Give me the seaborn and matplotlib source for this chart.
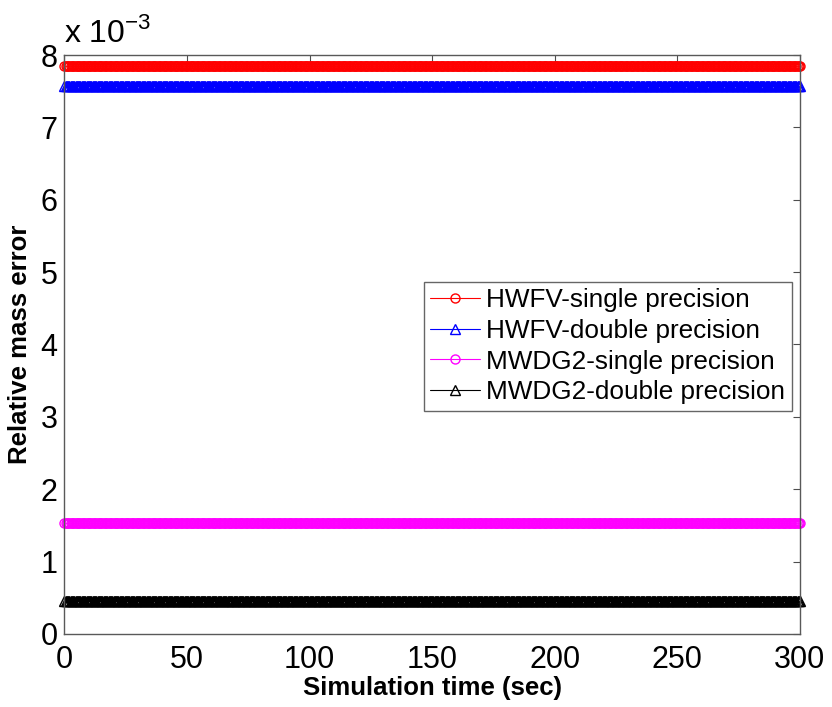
import numpy as np
import pandas as pd
import matplotlib
matplotlib.use('Agg')
import matplotlib.pyplot as plt
import seaborn as sns
from matplotlib.ticker import FuncFormatter

# simulation output times (sec)
time_sec = np.arange(0, 300.5, 0.5)

series_names = ['HWFV-single precision', 'HWFV-double precision',
                'MWDG2-single precision', 'MWDG2-double precision']
# relative mass error levels (constant over time)
error_levels = [7.85e-3, 7.57e-3, 1.54e-3, 0.455e-3]
series_colors = ['#ff0000', '#0000ff', '#ff00ff', '#000000']
series_markers = ['o', '^', 'o', '^']

x_ticks = [0, 50, 100, 150, 200, 250, 300]
y_ticks = [0, 1e-3, 2e-3, 3e-3, 4e-3, 5e-3, 6e-3, 7e-3, 8e-3]

sns.set_style('white')
plt.rcParams['font.family'] = ['Liberation Sans', 'DejaVu Sans']
plt.rcParams['text.color'] = 'black'
plt.rcParams['axes.labelcolor'] = 'black'
plt.rcParams['mathtext.fontset'] = 'custom'
plt.rcParams['mathtext.rm'] = 'Liberation Sans'

fig = plt.figure(figsize=(8.32, 7.07), dpi=100)
ax = fig.add_axes([0.0775, 0.1033, 0.884, 0.8189])

for name, level, color, marker in zip(series_names, error_levels, series_colors, series_markers):
    df = pd.DataFrame({'time': time_sec, 'error': [level] * len(time_sec)})
    sns.lineplot(data=df, x='time', y='error', ax=ax, color=color, marker=marker,
                 markersize=6.5, markerfacecolor='none', markeredgecolor=color,
                 markeredgewidth=1.0, linewidth=0.6, label=name, estimator=None,
                 clip_on=False)

ax.set_xlim(0, 300)
ax.set_ylim(0, 8e-3)
ax.set_xticks(x_ticks)
ax.set_yticks(y_ticks)
ax.yaxis.set_major_formatter(FuncFormatter(lambda v, _: f'{v * 1e3:g}'))
ax.tick_params(direction='in', length=5, width=0.8, colors='0.3', labelcolor='black',
               labelsize=22, top=True, right=True)
ax.tick_params(axis='x', pad=8)
ax.tick_params(axis='y', pad=5)
for sp in ax.spines.values():
    sp.set_color('0.35')
    sp.set_linewidth(1.0)

ax.set_xlabel('Simulation time (sec)', fontsize=18.5, fontweight='bold', labelpad=1)
ax.set_ylabel('Relative mass error', fontsize=18.5, fontweight='bold', labelpad=6)

ax.text(0.0, 1.01, r'x 10$^{\mathregular{-3}}$', transform=ax.transAxes,
        fontsize=23, ha='left', va='bottom')

leg = ax.legend(loc='upper right', bbox_to_anchor=(0.989, 0.608), borderaxespad=0,
                fontsize=18.8, frameon=True, fancybox=False, edgecolor='0.4',
                framealpha=1, labelspacing=0.25, handletextpad=0.25,
                handlelength=1.9, borderpad=0.25)
leg.get_frame().set_linewidth(1.0)
for txt in leg.get_texts():
    txt.set_color('black')
for h in leg.legend_handles:
    h.set_linewidth(0.8)

fig.savefig('out.png', dpi=100)
